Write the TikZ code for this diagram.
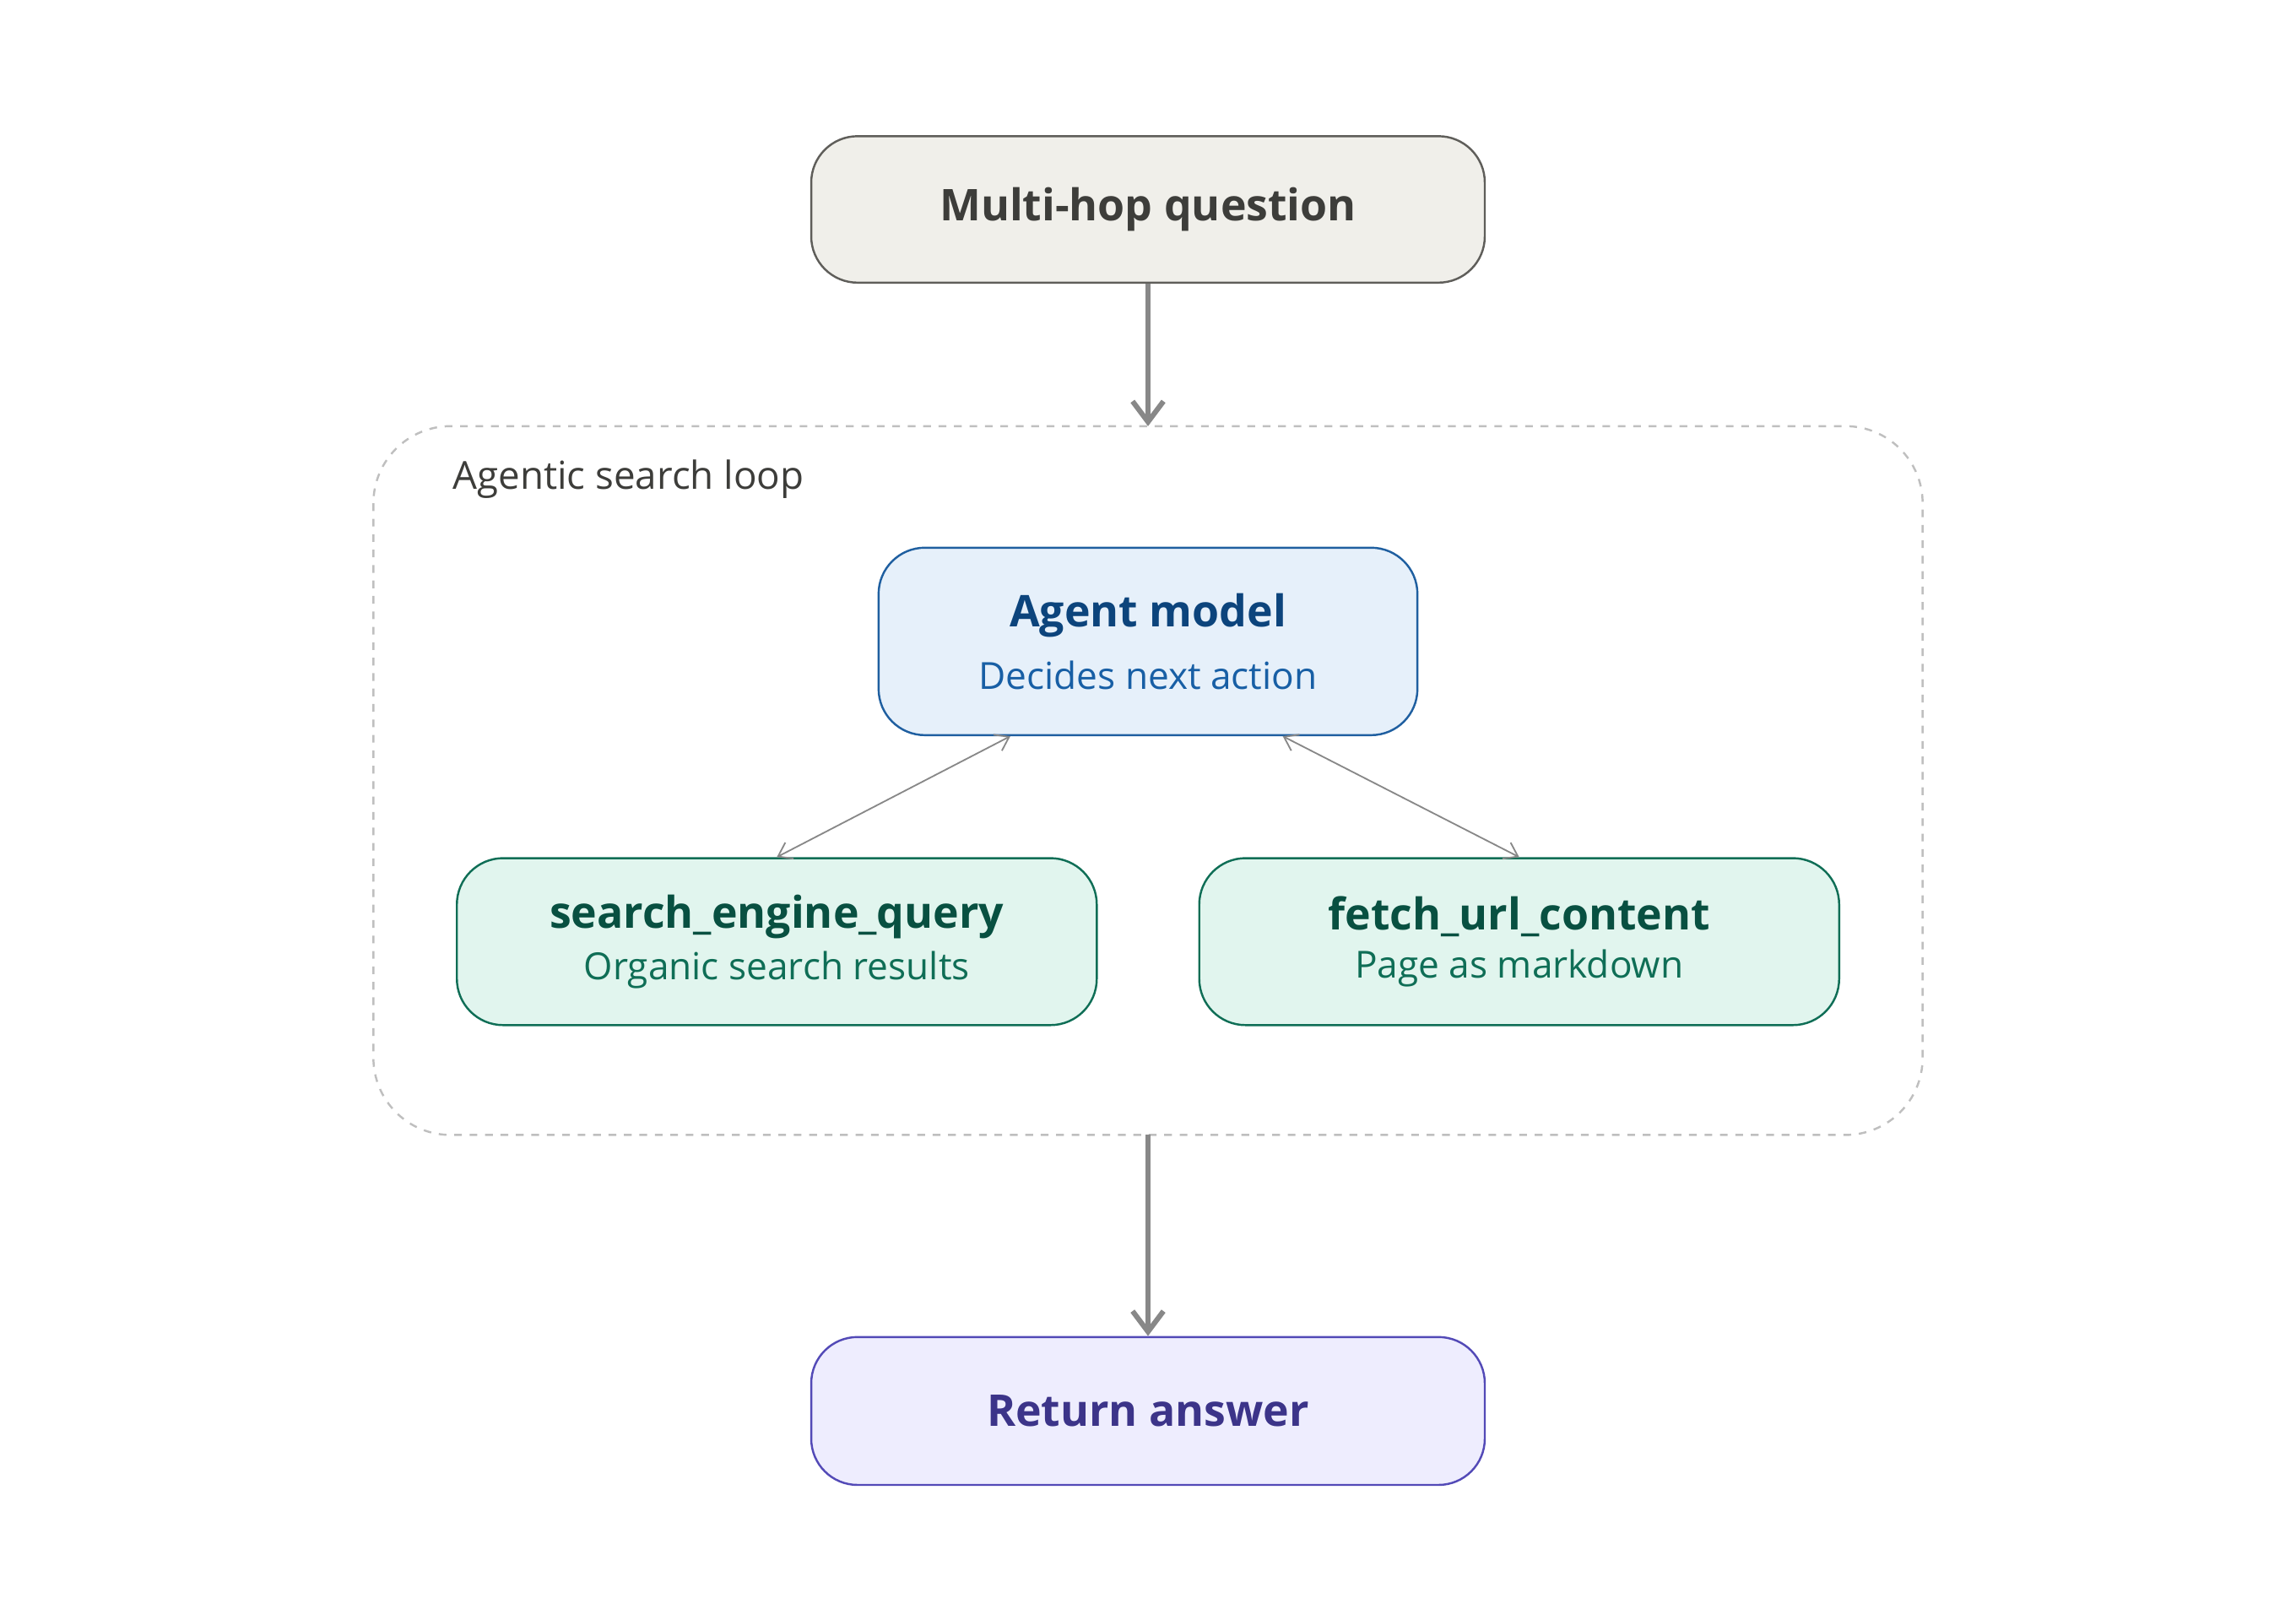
\documentclass[tikz,border=0pt]{standalone}
\usepackage{fontspec}
\setmainfont{Open Sans}
\usetikzlibrary{arrows.meta}
\definecolor{qfill}{HTML}{F0EFEA}
\definecolor{qdraw}{HTML}{5F5E5A}
\definecolor{qtext}{HTML}{3D3D3A}
\definecolor{afill}{HTML}{E6F0FA}
\definecolor{adraw}{HTML}{1F5FA0}
\definecolor{atext}{HTML}{0C447C}
\definecolor{asub}{HTML}{185FA5}
\definecolor{tfill}{HTML}{E1F5EE}
\definecolor{tdraw}{HTML}{0F6E56}
\definecolor{ttext}{HTML}{085041}
\definecolor{rfill}{HTML}{EEEDFE}
\definecolor{rdraw}{HTML}{534AB7}
\definecolor{rtext}{HTML}{3C3489}
\definecolor{arr}{HTML}{888888}
\tikzset{
    box/.style={draw,rounded corners=18,line width=0.8pt,align=center,inner sep=0pt},
    big/.style={-{Straight Barb[length=8pt,width=12pt]},arr,line width=2pt},
    thin/.style={{Straight Barb[length=5pt,width=7pt]}-{Straight Barb[length=5pt,width=7pt]},arr,line width=0.6pt},
}
\begin{document}
\begin{tikzpicture}[x=0.02cm,y=-0.02cm]
    \useasboundingbox (0,0) rectangle (1568,1106);
    \draw[dashed,color=gray!50,line width=0.8pt,rounded corners=30] (255,291) rectangle (1313,775);
    \coordinate (LoopTop) at (784,291);
    \coordinate (LoopBot) at (784,775);
    \node[anchor=west,text=qtext,font=\fontsize{15}{18}\selectfont] (lbl) at (303,327) {Agentic search loop};
    % question and answer
    \node[box,fill=qfill,draw=qdraw,text=qtext,minimum width=460*0.02cm,minimum height=100*0.02cm,
        font=\fontsize{17}{20}\selectfont\bfseries] (Q) at (784,143) {Multi-hop question};
    \node[box,fill=rfill,draw=rdraw,text=rtext,minimum width=460*0.02cm,minimum height=101*0.02cm,
        font=\fontsize{17}{20}\selectfont\bfseries] (R) at (784,963.5) {Return answer};
    % agent and tools
    \node[box,fill=afill,draw=adraw,minimum width=368*0.02cm,minimum height=128*0.02cm] (A) at (784,438)
        {\textcolor{atext}{\fontsize{17}{20}\selectfont\bfseries Agent model}\\[8pt]
         \textcolor{asub}{\fontsize{14.5}{18}\selectfont Decides next action}};
    \node[box,fill=tfill,draw=tdraw,minimum width=437*0.02cm,minimum height=114*0.02cm] (S) at (530.5,643)
        {\textcolor{ttext}{\fontsize{17}{20}\selectfont\bfseries search\_engine\_query}\\[4pt]
         \textcolor{tdraw}{\fontsize{14.5}{18}\selectfont Organic search results}};
    \node[box,fill=tfill,draw=tdraw,minimum width=437*0.02cm,minimum height=114*0.02cm] (F) at (1037.5,643)
        {\textcolor{ttext}{\fontsize{17}{20}\selectfont\bfseries fetch\_url\_content}\\[4pt]
         \textcolor{tdraw}{\fontsize{14.5}{18}\selectfont Page as markdown}};
    \draw[big] (Q) -- (LoopTop);
    \draw[big] (LoopBot) -- (R);
    \draw[thin] ([xshift=-94*0.02cm]A.south) -- (S.north);
    \draw[thin] ([xshift=92*0.02cm]A.south) -- (F.north);
\end{tikzpicture}
\end{document}
